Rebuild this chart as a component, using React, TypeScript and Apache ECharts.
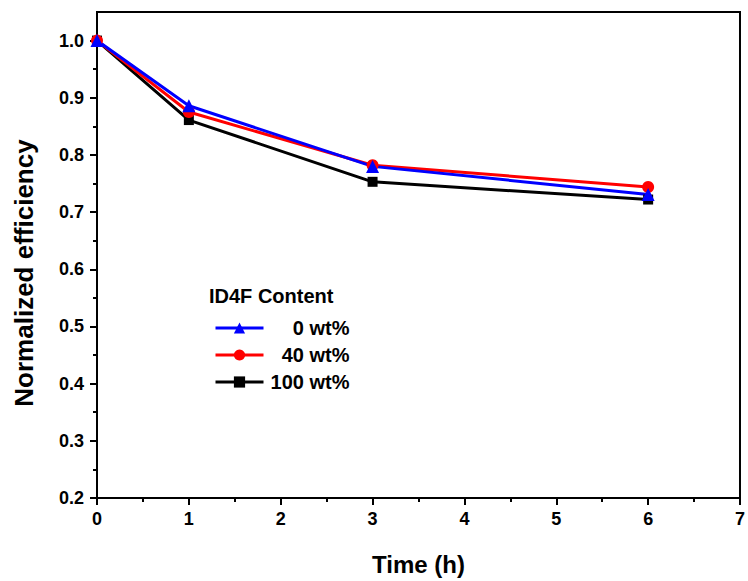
import React, { useEffect, useRef } from "react";
import * as echarts from "echarts";

const times = [0, 1, 3, 6];
const series0 = [1.0, 0.886, 0.780, 0.731];
const series40 = [1.0, 0.875, 0.782, 0.744];
const series100 = [1.0, 0.861, 0.753, 0.722];
const seriesNames = ["0 wt%", "40 wt%", "100 wt%"];
const legendTitle = "ID4F Content";
const xTitle = "Time (h)";
const yTitle = "Normalized efficiency";
const yTicks = [0.2, 0.3, 0.4, 0.5, 0.6, 0.7, 0.8, 0.9, 1.0];

const FONT = "'Liberation Sans', Arial, sans-serif";

export default function App() {
  const ref = useRef<HTMLDivElement>(null);
  useEffect(() => {
    if (!ref.current) return;
    document.body.style.margin = "0";
    const chart = echarts.init(ref.current, undefined, { renderer: "svg" });
    const mk = (vals: number[]) => times.map((t, i) => [t, vals[i]]);
    const base = (name: string, color: string, symbol: string, vals: number[], size: number) => ({
      name,
      type: "line",
      data: mk(vals),
      symbol,
      symbolSize: size,
      lineStyle: { color, width: 3 },
      itemStyle: { color },
      z: 3,
    });
    chart.setOption({
      animation: false,
      textStyle: { fontFamily: FONT },
      grid: {
        left: 97,
        right: 7,
        top: 12,
        bottom: 79,
        show: true,
        borderColor: "#000",
        borderWidth: 2,
        backgroundColor: "transparent",
      },
      xAxis: {
        type: "value",
        min: 0,
        max: 7,
        interval: 1,
        name: xTitle,
        nameLocation: "middle",
        nameGap: 54,
        nameTextStyle: { fontSize: 24, fontWeight: "bold", color: "#000", fontFamily: FONT },
        axisLine: { show: true, lineStyle: { color: "#000", width: 2 } },
        axisTick: { show: true, length: 7, lineStyle: { color: "#000", width: 2 } },
        minorTick: { show: true, splitNumber: 2, length: 4, lineStyle: { color: "#000", width: 2 } },
        splitLine: { show: false },
        axisLabel: { fontSize: 18, fontWeight: "bold", color: "#000", margin: 12, fontFamily: FONT },
      },
      yAxis: {
        type: "value",
        min: 0.2,
        max: 1.05,
        interval: 0.1,
        axisLine: { show: true, lineStyle: { color: "#000", width: 2 } },
        axisTick: { show: true, length: 7, customValues: yTicks, lineStyle: { color: "#000", width: 2 } },
        minorTick: { show: true, splitNumber: 2, length: 4, lineStyle: { color: "#000", width: 2 } },
        splitLine: { show: false },
        axisLabel: {
          fontSize: 18,
          fontWeight: "bold",
          color: "#000",
          margin: 13,
          customValues: yTicks,
          fontFamily: FONT,
          formatter: (v: number) => v.toFixed(1),
        },
      },
      legend: {
        orient: "vertical",
        left: 209,
        top: 313,
        itemWidth: 48,
        itemHeight: 14,
        itemGap: 7,
        data: seriesNames,
        lineStyle: { width: 3 },
        formatter: (n: string) => `{r|${n}}`,
        textStyle: {
          fontFamily: FONT,
          rich: {
            r: {
              width: 81,
              align: "right",
              fontSize: 20,
              fontWeight: "bold",
              color: "#000",
              lineHeight: 20,
              fontFamily: FONT,
            },
          },
        },
      },
      graphic: [
        {
          type: "text",
          left: 209,
          top: 286,
          style: {
            text: legendTitle,
            fontSize: 20,
            fontWeight: "bold",
            fill: "#000",
            fontFamily: FONT,
          },
        },
        {
          type: "text",
          x: 24,
          y: 273,
          rotation: Math.PI / 2,
          style: {
            text: yTitle,
            fontSize: 26,
            fontWeight: "bold",
            fill: "#000",
            fontFamily: FONT,
            align: "center",
            verticalAlign: "middle",
          },
        },
      ],
      series: [
        base(seriesNames[2], "#000000", "rect", series100, 10),
        base(seriesNames[1], "#ff0000", "circle", series40, 12),
        base(seriesNames[0], "#0000ff", "triangle", series0, 13),
      ],
    });
    return () => chart.dispose();
  }, []);
  return <div ref={ref} style={{ width: 748, height: 581 }} />;
}
